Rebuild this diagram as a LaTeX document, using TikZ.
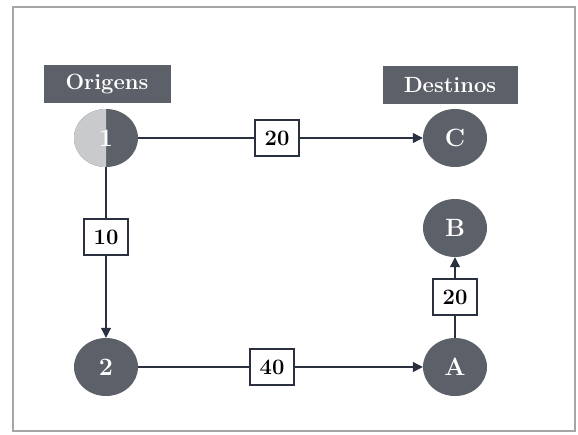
\documentclass[tikz,border=0pt]{standalone}
\usepackage{fontspec}
\usetikzlibrary{shapes.geometric,arrows.meta}
\definecolor{nodegray}{HTML}{5C6068}
\definecolor{lightg}{HTML}{C9CACC}
\definecolor{linec}{HTML}{2A3040}
\begin{document}
\begin{tikzpicture}[x=1pt,y=-1pt,
  city/.style={ellipse,fill=nodegray,minimum width=64pt,minimum height=58pt,inner sep=0pt,text=white,font=\fontsize{25}{28}\selectfont\bfseries},
  hdr/.style={rectangle,fill=nodegray,text=white,minimum width=127pt,minimum height=38pt,inner sep=0pt,font=\fontsize{22}{26}\selectfont\bfseries},
  qty/.style={rectangle,draw=linec,line width=1.2pt,fill=white,minimum width=44pt,minimum height=36pt,inner sep=0pt,font=\fontsize{22}{26}\selectfont\bfseries},
  link/.style={draw=linec,line width=1.1pt},
  arr/.style={link,-{Triangle[length=10pt,width=10pt]}}]
\useasboundingbox (0,0) rectangle (578,434);
\draw[gray!70,line width=1.2pt] (13,7) rectangle (575,431);
% headers
\node[hdr] (ho) at (107,84) {Origens};
\node[hdr,minimum width=135pt] (hd) at (450,85) {Destinos};
% nodes
\node[city] (n1) at (106,138) {};
\begin{scope}
  \clip (70,100) rectangle (106,176);
  \fill[lightg] (n1.center) ellipse [x radius=32pt,y radius=29pt];
\end{scope}
\node[text=white,font=\fontsize{25}{28}\selectfont\bfseries] (t1) at (106,138) {1};
\node[city] (nC) at (455,138) {C};
\node[city] (nB) at (455,228) {B};
\node[city] (n2) at (106,367) {2};
\node[city] (nA) at (455,367) {A};
% edge labels
\node[qty] (q1) at (277,138) {20};
\node[qty] (q2) at (106,237) {10};
\node[qty] (q3) at (272,367) {40};
\node[qty] (q4) at (455,297) {20};
% connectors
\draw[link] (n1) -- (q1);
\draw[arr] (q1) -- (nC);
\draw[link] (n1) -- (q2);
\draw[arr] (q2) -- (n2);
\draw[link] (n2) -- (q3);
\draw[arr] (q3) -- (nA);
\draw[link] (nA) -- (q4);
\draw[arr] (q4) -- (nB);
\end{tikzpicture}
\end{document}
